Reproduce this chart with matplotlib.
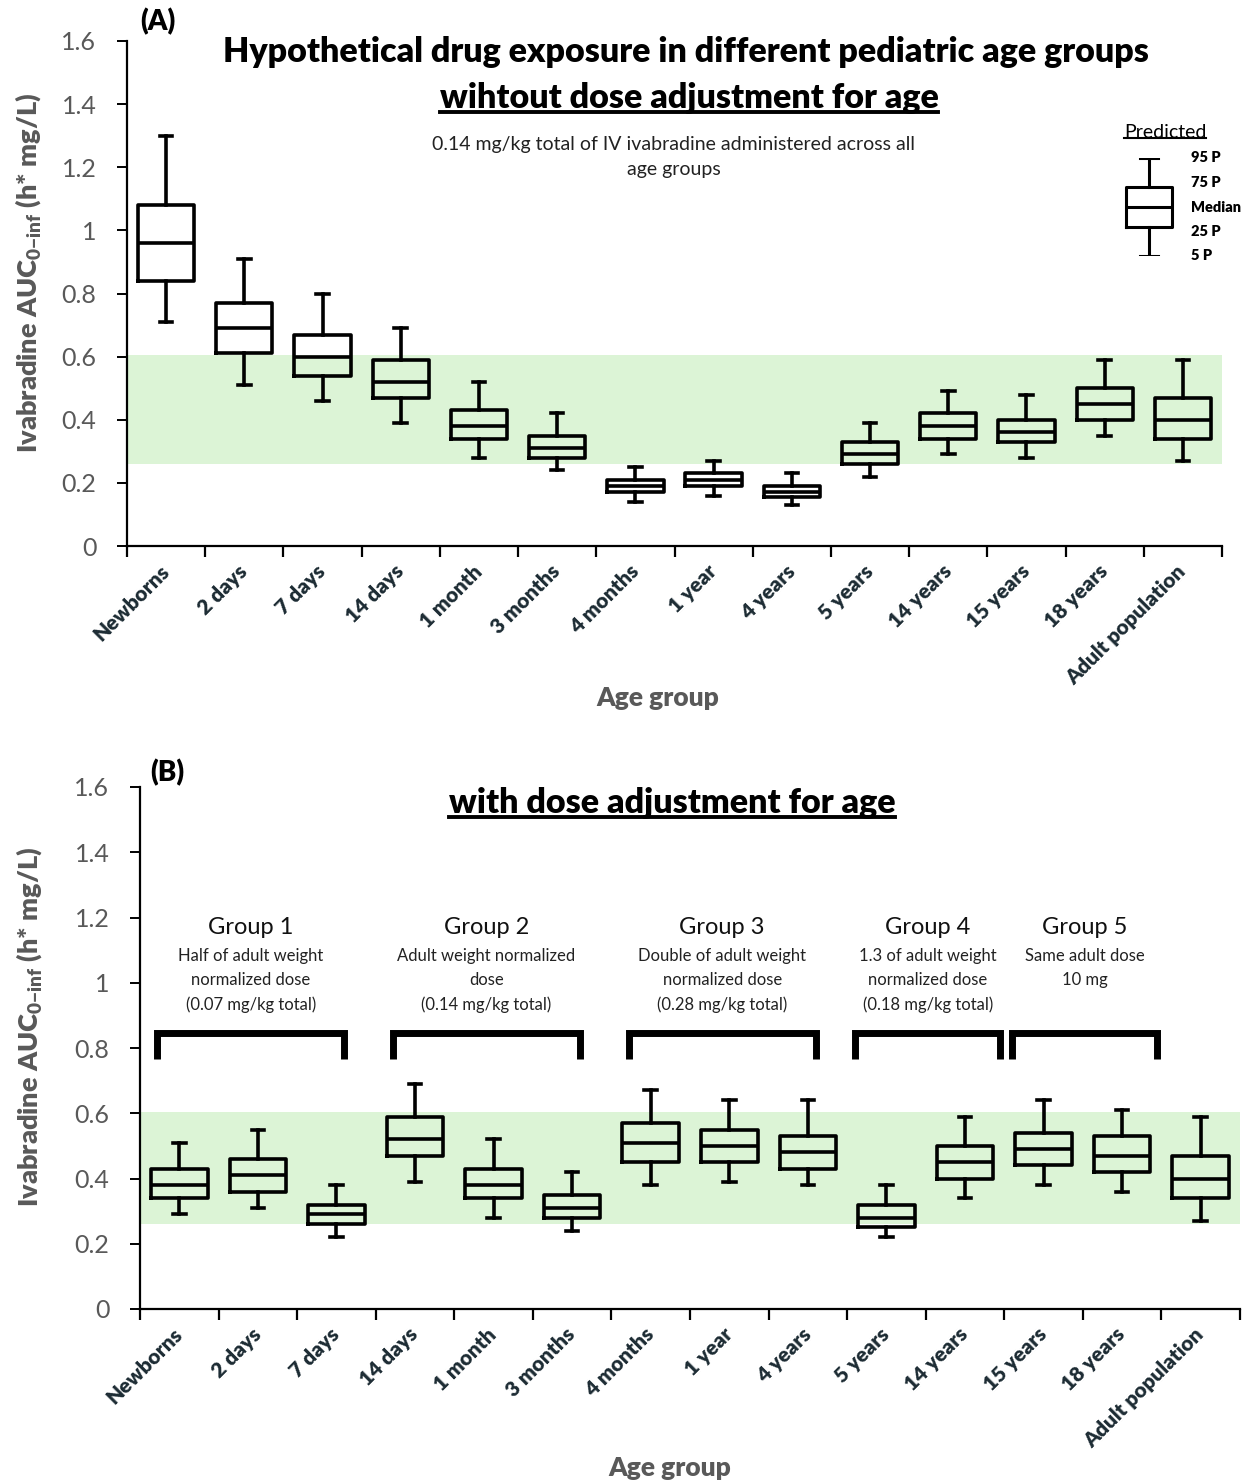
import matplotlib
matplotlib.use('Agg')
import matplotlib.pyplot as plt
from matplotlib.lines import Line2D
from matplotlib.ticker import FuncFormatter, MultipleLocator

plt.rcParams['font.family'] = ['Lato', 'DejaVu Sans']
plt.rcParams['mathtext.fontset'] = 'custom'
plt.rcParams['mathtext.rm'] = 'Lato'
plt.rcParams['mathtext.bf'] = 'Lato:heavy'

age_groups = ['Newborns', '2 days', '7 days', '14 days', '1 month', '3 months',
              '4 months', '1 year', '4 years', '5 years', '14 years', '15 years',
              '18 years', 'Adult population']

# (A) same mg/kg dose for every age group: 5th, 25th, 50th, 75th, 95th percentile
p5_a = [0.71, 0.51, 0.46, 0.39, 0.28, 0.24, 0.14, 0.16, 0.13, 0.22, 0.29, 0.28, 0.35, 0.27]
p25_a = [0.84, 0.61, 0.54, 0.47, 0.34, 0.28, 0.17, 0.19, 0.155, 0.26, 0.34, 0.33, 0.40, 0.34]
p50_a = [0.96, 0.69, 0.60, 0.52, 0.38, 0.31, 0.19, 0.21, 0.17, 0.29, 0.38, 0.36, 0.45, 0.40]
p75_a = [1.08, 0.77, 0.67, 0.59, 0.43, 0.35, 0.21, 0.23, 0.19, 0.33, 0.42, 0.40, 0.50, 0.47]
p95_a = [1.30, 0.91, 0.80, 0.69, 0.52, 0.42, 0.25, 0.27, 0.23, 0.39, 0.49, 0.48, 0.59, 0.59]

# (B) age-adjusted dosing
p5_b = [0.29, 0.31, 0.22, 0.39, 0.28, 0.24, 0.38, 0.39, 0.38, 0.22, 0.34, 0.38, 0.36, 0.27]
p25_b = [0.34, 0.36, 0.26, 0.47, 0.34, 0.28, 0.45, 0.45, 0.43, 0.25, 0.40, 0.44, 0.42, 0.34]
p50_b = [0.38, 0.41, 0.29, 0.52, 0.38, 0.31, 0.51, 0.50, 0.48, 0.28, 0.45, 0.49, 0.47, 0.40]
p75_b = [0.43, 0.46, 0.32, 0.59, 0.43, 0.35, 0.57, 0.55, 0.53, 0.32, 0.50, 0.54, 0.53, 0.47]
p95_b = [0.51, 0.55, 0.38, 0.69, 0.52, 0.42, 0.67, 0.64, 0.64, 0.38, 0.59, 0.64, 0.61, 0.59]

# adult exposure range (shaded)
target_range = (0.26, 0.605)

group_names = ['Group 1', 'Group 2', 'Group 3', 'Group 4', 'Group 5']
group_doses = ['Half of adult weight\nnormalized dose\n(0.07 mg/kg total)',
               'Adult weight normalized\ndose\n(0.14 mg/kg total)',
               'Double of adult weight\nnormalized dose\n(0.28 mg/kg total)',
               '1.3 of adult weight\nnormalized dose\n(0.18 mg/kg total)',
               'Same adult dose\n10 mg']
group_members = [(0, 2), (3, 5), (6, 8), (9, 10), (11, 12)]

W, H = 1254, 1484
GRAY = '#595959'
TICK_DARK = '#1c2b33'
BAND = '#dcf4d6'
BOLD = 800

fig = plt.figure(figsize=(W / 100, H / 100), dpi=100)


def px_rect(x0, y_top, x1, y_bot):
    return [x0 / W, 1 - y_bot / H, (x1 - x0) / W, (y_bot - y_top) / H]


def underline(txt, offset=3, lw=2.2, color='black'):
    fig.canvas.draw()
    bb = txt.get_window_extent()
    inv = fig.transFigure.inverted()
    (x0, y0), (x1, _) = inv.transform([[bb.x0, bb.y0 + offset], [bb.x1, bb.y0]])
    fig.add_artist(Line2D([x0, x1], [y0, y0], transform=fig.transFigure,
                          color=color, lw=lw))


def draw_panel(ax, lo, q1, med, q3, hi, label_x):
    n = len(age_groups)
    ax.axhspan(*target_range, color=BAND, lw=0, zorder=0)
    stats = [dict(whislo=lo[i], q1=q1[i], med=med[i], q3=q3[i], whishi=hi[i],
                  label=age_groups[i]) for i in range(n)]
    line = dict(color='black', lw=2.6)
    ax.bxp(stats, positions=list(range(n)), widths=0.72, capwidths=0.16,
           showfliers=False, boxprops=line, whiskerprops=line, capprops=line,
           medianprops=line, zorder=3)
    ax.set_xlim(-0.5, n - 0.5)
    ax.set_ylim(0, 1.6)
    for s in ['top', 'right']:
        ax.spines[s].set_visible(False)
    for s in ['left', 'bottom']:
        ax.spines[s].set_linewidth(1.6)
        ax.spines[s].set_color('black')
    ax.yaxis.set_major_locator(MultipleLocator(0.2))
    ax.yaxis.set_major_formatter(FuncFormatter(lambda v, p: f'{v:g}'))
    ax.tick_params(axis='y', length=7, width=1.4, pad=15, labelsize=18,
                   labelcolor=GRAY)
    ax.set_xticks(range(n))
    ax.set_xticklabels(age_groups, rotation=45, ha='right', va='center',
                       rotation_mode='anchor', fontweight=BOLD, fontsize=15,
                       color=TICK_DARK)
    ax.tick_params(axis='x', which='major', length=0, pad=16)
    ax.set_xticks([i - 0.5 for i in range(n + 1)], minor=True)
    ax.tick_params(axis='x', which='minor', length=8, width=1.6)
    ax.set_ylabel('Ivabradine AUC$_{\\mathbf{0{-}inf}}$ (h* mg/L)', fontsize=19.5,
                  fontweight=BOLD, color=GRAY, va='center')
    ax.yaxis.set_label_coords(label_x, 0.54)


# panel A
ax_a = fig.add_axes(px_rect(127, 41, 1222, 546))
draw_panel(ax_a, p5_a, p25_a, p50_a, p75_a, p95_a, -0.09)
ax_a.text(0.485, -0.30, 'Age group', transform=ax_a.transAxes, ha='center',
          va='center', fontsize=19, fontweight=BOLD, color=GRAY)

# panel B
ax_b = fig.add_axes(px_rect(140, 787, 1240, 1309))
draw_panel(ax_b, p5_b, p25_b, p50_b, p75_b, p95_b, -0.101)
ax_b.text(0.482, -0.305, 'Age group', transform=ax_b.transAxes, ha='center',
          va='center', fontsize=19, fontweight=BOLD, color=GRAY)

for name, dose, (first, last) in zip(group_names, group_doses, group_members):
    # two-member groups get a wider bracket
    pad_l, pad_r = (0.28, 0.1) if last - first >= 2 else (0.4, 0.45)
    x0, x1 = first - pad_l, last + pad_r
    ax_b.plot([x0, x0, x1, x1], [0.765, 0.845, 0.845, 0.765], color='black',
              lw=5, solid_joinstyle='miter', solid_capstyle='butt', zorder=4)
    xc = (x0 + x1) / 2
    ax_b.text(xc, 1.168, name, ha='center', va='center', fontsize=17,
              color='#111111')
    ax_b.text(xc, 1.107, dose, ha='center', va='top', fontsize=12,
              color='#222222', linespacing=1.64)

# titles and panel letters
fig.text(140 / W, 1 - 22 / H, '(A)', ha='left', va='center', fontsize=20,
         fontweight=BOLD)
fig.text(150 / W, 1 - 773 / H, '(B)', ha='left', va='center', fontsize=20,
         fontweight=BOLD)
fig.text(686 / W, 1 - 52 / H,
         'Hypothetical drug exposure in different pediatric age groups',
         ha='center', va='center', fontsize=24.5, fontweight=BOLD)
t_a = fig.text(689 / W, 1 - 98 / H, 'wihtout dose adjustment for age',
               ha='center', va='center', fontsize=24.5, fontweight=BOLD)
fig.text(674 / W, 1 - 157 / H,
         '0.14 mg/kg total of IV ivabradine administered across all\nage groups',
         ha='center', va='center', fontsize=14, color='#222222', linespacing=1.62)
t_b = fig.text(672 / W, 1 - 803 / H, 'with dose adjustment for age',
               ha='center', va='center', fontsize=24.5, fontweight=BOLD)
underline(t_a, offset=2, lw=2.8)
underline(t_b, offset=2, lw=2.8)

# percentile key
t_key = fig.text(1165 / W, 1 - 132 / H, 'Predicted', ha='center', va='center',
                 fontsize=14)
underline(t_key, offset=2, lw=1.5)
key_levels = [0.0, 0.3, 0.5, 0.7, 1.0]
key_names = ['5 P', '25 P', 'Median', '75 P', '95 P']
ax_key = fig.add_axes(px_rect(1120, 158, 1178, 256))
ax_key.set_axis_off()
key_line = dict(color='black', lw=2.2)
ax_key.bxp([dict(whislo=key_levels[0], q1=key_levels[1], med=key_levels[2],
                 q3=key_levels[3], whishi=key_levels[4])],
           positions=[0], widths=0.8, capwidths=0.3, showfliers=False,
           boxprops=key_line, whiskerprops=key_line, capprops=key_line,
           medianprops=key_line)
ax_key.set_xlim(-0.5, 0.5)
ax_key.set_ylim(0, 1)
# key labels sit on an even ladder beside the glyph
for i, nm in enumerate(key_names):
    ax_key.text(0.72, i / (len(key_names) - 1), nm, ha='left', va='center',
                fontsize=10.5, fontweight=BOLD, clip_on=False)

fig.savefig('out.png', dpi=100)
